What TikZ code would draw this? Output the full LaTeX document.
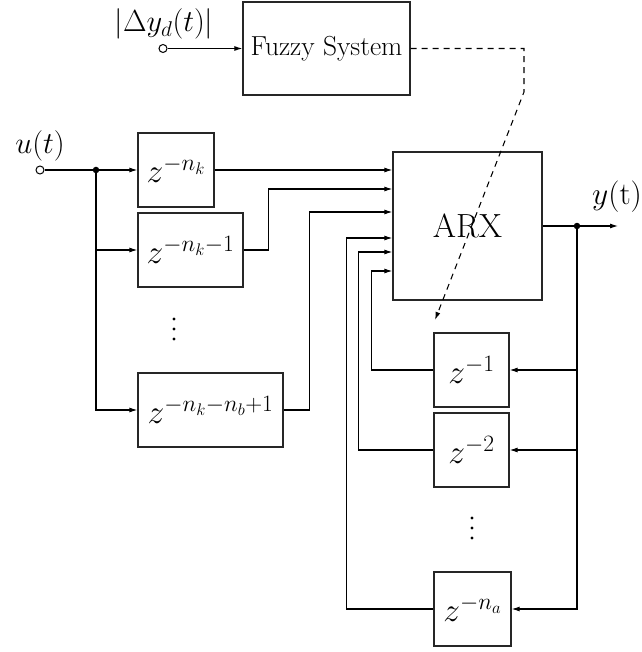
\documentclass[tikz,border=0pt]{standalone}
\RequirePackage{fix-cm}
\usetikzlibrary{arrows.meta,calc}
\begin{document}
\begin{tikzpicture}[x=1pt,y=-1pt,
  blk/.style={draw=black!85, line width=1.3pt, inner sep=0pt, minimum height=74pt},
  wire/.style={line width=1.05pt},
  arr/.style={wire, -{Latex[length=8pt,width=5pt]}},
  mtxt/.style={font=\fontsize{33.5}{40}\selectfont},
  port/.style={draw, circle, fill=white, inner sep=0pt, minimum size=8pt, line width=1pt},
  jdot/.style={circle, fill, inner sep=0pt, minimum size=6.5pt},
  lbl/.style={font=\fontsize{31.5}{38}\selectfont, inner sep=0pt}]
\useasboundingbox (0,0) rectangle (641,652);

% blocks
\node[blk, minimum width=167pt, minimum height=93pt, font=\fontsize{27.5}{33}\selectfont] (fz) at (326.5,48.5) {Fuzzy System};
\node[blk, minimum width=76pt, mtxt] (b1) at (176,170) {$z^{-n_k}$};
\node[blk, minimum width=105pt, mtxt] (b2) at (190.5,250) {$z^{-n_k-1}$};
\node[blk, minimum width=145pt, mtxt] (b3) at (210.5,410) {$z^{-n_k-n_b+1}$};
\node[blk, minimum width=149pt, minimum height=148pt, font=\fontsize{33.5}{40}\selectfont] (arx) at (467.5,226) {ARX};
\node[blk, minimum width=75pt, mtxt] (a1) at (471.5,370) {$z^{-1}$};
\node[blk, minimum width=75pt, mtxt] (a2) at (471.5,450) {$z^{-2}$};
\node[blk, minimum width=77pt, mtxt] (a3) at (472.5,609) {$z^{-n_a}$};

% ports, junctions, labels
\node[port] (uin) at (40,170) {};
\node[jdot] (j1) at (96,170) {};
\node[port] (din) at (163,48.5) {};
\node[jdot] (j2) at (577,226) {};
\coordinate (yout) at (618,226);
\node[lbl, font=\fontsize{30.5}{36}\selectfont] (ul) at (40,146) {$u(t)$};
\node[lbl, font=\fontsize{30.5}{36}\selectfont] (dl) at (164,24) {$|\Delta y_d(t)|$};
\node[lbl] (yl) at (617,197) {$y(\mathrm{t})$};

% ARX input points
\coordinate (i1) at ($(arx.west)+(0,-55)$);
\coordinate (i2) at ($(arx.west)+(0,-37)$);
\coordinate (i3) at ($(arx.west)+(0,-14)$);
\coordinate (i4) at ($(arx.west)+(0,12)$);
\coordinate (i5) at ($(arx.west)+(0,26)$);
\coordinate (i6) at ($(arx.west)+(0,45)$);

% input side
\draw[arr] (din) -- (fz.west);
\draw[wire] (uin) -- (j1);
\draw[arr] (j1) -- (b1.west);
\draw[arr] (j1) |- (b2.west);
\draw[arr] (j1) |- (b3.west);
\draw[arr] (b1.east) -- (b1.east -| arx.west);
\draw[arr] (b2.east) -- ++(25,0) |- (i2);
\draw[arr] (b3.east) -- ++(26,0) |- (i3);

% feedback side
\draw[arr] (a1.west) -- ++(-62,0) |- (i6);
\draw[arr] (a2.west) -- ++(-75,0) |- (i5);
\draw[arr] (a3.west) -- ++(-87,0) |- (i4);
\draw[wire] (arx.east) -- (j2);
\draw[arr] (j2) -- (yout);
\draw[arr] (j2) |- (a1.east);
\draw[arr] (j2) |- (a2.east);
\draw[arr] (j2) |- (a3.east);

% dashed tuning signal
\coordinate (dk1) at (524,48.5);
\coordinate (dk2) at (524,92);
\coordinate (dtip) at (435,320);
\draw[arr, dash pattern=on 6pt off 5pt] (fz.east) -- (dk1) -- (dk2) -- (dtip);

% vertical dots
\foreach \yy in {319,329,339} \fill (174,\yy) circle (1.7pt);
\foreach \yy in {518,528,538} \fill (472,\yy) circle (1.7pt);
\end{tikzpicture}
\end{document}
